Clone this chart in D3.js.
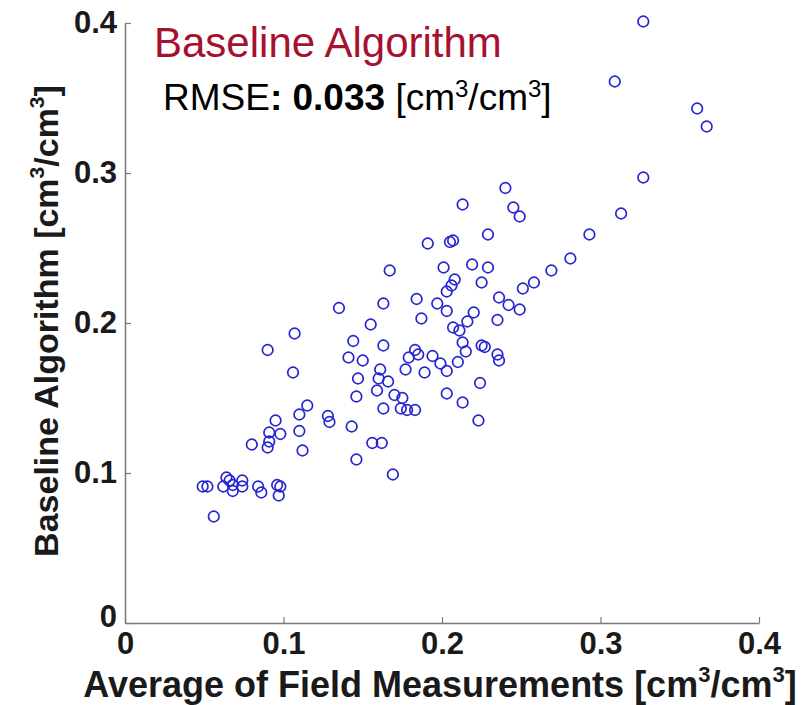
<!DOCTYPE html>
<html>
<head>
<meta charset="utf-8">
<script src="https://cdn.jsdelivr.net/npm/d3@7"></script>
<style>
  body { margin: 0; background: #fff; }
  text { font-family: "Liberation Sans", Arial, sans-serif; }
</style>
</head>
<body>
<div id="chart-area"></div>
<script>
// data (field average vs baseline algorithm)
let fieldAvg = [0.327,0.309,0.361,0.367,0.327,0.313,0.293,0.281,0.269,0.258,
  0.251,0.240,0.213,0.245,0.249,0.229,0.191,0.205,0.207,0.167,
  0.201,0.219,0.229,0.225,0.208,0.206,0.203,0.163,0.184,0.197,
  0.203,0.236,0.242,0.249,0.187,0.220,0.216,0.207,0.211,0.235,
  0.155,0.163,0.183,0.185,0.213,0.215,0.225,0.227,0.235,0.236,
  0.194,0.199,0.203,0.210,0.177,0.189,0.179,0.224,0.203,0.213,
  0.223,0.170,0.175,0.163,0.174,0.178,0.183,0.135,0.144,0.141,
  0.150,0.161,0.147,0.160,0.166,0.159,0.146,0.128,0.129,0.143,
  0.107,0.090,0.106,0.115,0.110,0.095,0.110,0.098,0.091,0.091,
  0.090,0.080,0.112,0.156,0.162,0.146,0.169,0.049,0.052,0.064,
  0.066,0.068,0.062,0.068,0.074,0.074,0.084,0.086,0.096,0.098,
  0.097,0.056];

let baseline = [0.401,0.361,0.343,0.331,0.297,0.273,0.259,0.243,0.235,0.227,
  0.223,0.290,0.279,0.277,0.271,0.259,0.253,0.254,0.255,0.235,
  0.237,0.239,0.237,0.227,0.229,0.225,0.221,0.213,0.216,0.213,
  0.208,0.217,0.212,0.209,0.203,0.207,0.201,0.197,0.195,0.202,
  0.199,0.185,0.182,0.179,0.187,0.181,0.185,0.184,0.179,0.175,
  0.178,0.173,0.168,0.174,0.169,0.167,0.177,0.160,0.153,0.147,
  0.135,0.152,0.150,0.143,0.143,0.142,0.142,0.210,0.188,0.177,
  0.175,0.169,0.163,0.163,0.161,0.155,0.151,0.138,0.134,0.131,
  0.193,0.182,0.167,0.145,0.139,0.135,0.128,0.126,0.127,0.121,
  0.117,0.119,0.115,0.120,0.120,0.109,0.099,0.091,0.091,0.097,
  0.095,0.092,0.091,0.088,0.095,0.091,0.091,0.087,0.092,0.091,
  0.085,0.071];

let tickVals = [0, 0.1, 0.2, 0.3, 0.4];
let tickLabels = ["0", "0.1", "0.2", "0.3", "0.4"];

let titleText = "Baseline Algorithm";
let rmseValue = "0.033";

// Variables
let w = 803;
let h = 705;
let axisColor = "#7a7a7a";
let dotColor = "#2626d0";

let svg = d3.select("#chart-area")
    .append("svg")
    .attr("width", w)
    .attr("height", h)
    .style("background", "#fff");

// scales
let x = d3.scaleLinear()
    .domain([0, 0.4])
    .range([125, 759]);

let y = d3.scaleLinear()
    .domain([0, 0.4])
    .range([623, 23]);

// x axis (ticks point inward)
let xAxis = d3.axisBottom(x)
    .tickValues(tickVals)
    .tickSizeInner(-6)
    .tickSizeOuter(0)
    .tickPadding(9)
    .tickFormat(function(d, i){ return tickLabels[i]; });

let gx = svg.append("g")
    .attr("transform", "translate(0," + y(0) + ")")
    .call(xAxis);

// y axis
let yAxis = d3.axisLeft(y)
    .tickValues(tickVals)
    .tickSizeInner(-6)
    .tickSizeOuter(0)
    .tickPadding(8)
    .tickFormat(function(d, i){ return tickLabels[i]; });

let gy = svg.append("g")
    .attr("transform", "translate(" + x(0) + ",0)")
    .call(yAxis);

[gx, gy].forEach(function(g){
  g.select(".domain").attr("stroke", axisColor).attr("stroke-width", 1.5);
  g.selectAll(".tick line").attr("stroke", axisColor).attr("stroke-width", 1.2);
  g.selectAll(".tick text")
    .attr("font-family", "'Liberation Sans', Arial, sans-serif")
    .attr("font-size", 31)
    .attr("font-weight", "bold")
    .attr("fill", "#1a1a1a");
});

// nudge the two zero labels like the original
gy.selectAll(".tick text").filter(function(d){ return d === 0; })
    .attr("dy", "0.1em");
gx.selectAll(".tick text").attr("dy", "0.7em");

// the circles
let pts = fieldAvg.map(function(d, i){ return {fx: d, bl: baseline[i]}; });

svg.selectAll("circle")
    .data(pts)
    .enter()
    .append("circle")
      .attr("cx", function(d){ return x(d.fx); })
      .attr("cy", function(d){ return y(d.bl); })
      .attr("r", 5.3)
      .attr("fill", "none")
      .attr("stroke", dotColor)
      .attr("stroke-width", 1.7);

// helper: unit label with superscripts
function unitLabel(sel, prefix, size){
  let sup = Math.round(size * 0.62);
  let up = Math.round(size * 0.42);
  sel.append("tspan").text(prefix + "[cm");
  sel.append("tspan").attr("font-size", sup).attr("dy", -up).text("3");
  sel.append("tspan").attr("dy", up).text("/cm");
  sel.append("tspan").attr("font-size", sup).attr("dy", -up).text("3");
  sel.append("tspan").attr("dy", up).text("]");
}

// axis titles
let xLab = svg.append("text")
    .attr("x", 440)
    .attr("y", 697)
    .attr("text-anchor", "middle")
    .attr("font-size", 36)
    .attr("font-weight", "bold")
    .attr("fill", "#1a1a1a");
unitLabel(xLab, "Average of Field Measurements ", 36);

let yLab = svg.append("text")
    .attr("transform", "translate(58,321) rotate(-90)")
    .attr("text-anchor", "middle")
    .attr("font-size", 34)
    .attr("font-weight", "bold")
    .attr("fill", "#1a1a1a");
unitLabel(yLab, "Baseline Algorithm ", 34);

// title and RMSE annotation
svg.append("text")
    .attr("x", 154)
    .attr("y", 57)
    .attr("font-size", 42)
    .attr("fill", "#a6112f")
    .text(titleText);

let rmse = svg.append("text")
    .attr("x", 163)
    .attr("y", 110)
    .attr("font-size", 37)
    .attr("fill", "#000");
rmse.append("tspan").text("RMSE");
rmse.append("tspan").attr("font-weight", "bold").text(": " + rmseValue + " ");
rmse.append("tspan").text("[cm");
rmse.append("tspan").attr("font-size", 24).attr("dy", -13).text("3");
rmse.append("tspan").attr("dy", 13).text("/cm");
rmse.append("tspan").attr("font-size", 24).attr("dy", -13).text("3");
rmse.append("tspan").attr("dy", 13).text("]");
</script>
</body>
</html>
